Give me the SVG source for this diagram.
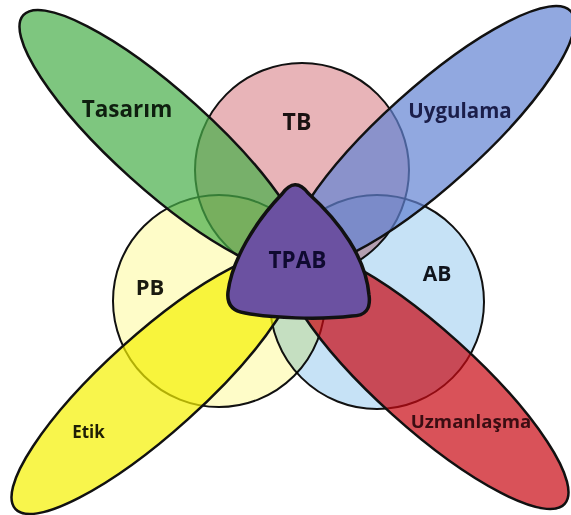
<svg xmlns="http://www.w3.org/2000/svg" width="571" height="515" viewBox="0 0 571 515">
  <style>
    .circle { stroke: #111; stroke-width: 2; mix-blend-mode: multiply; }
    .petal { stroke: #111; stroke-width: 2.5; fill-opacity: 0.7; }
    .core { fill: #6b51a1; stroke: #111; stroke-width: 3.5; stroke-linejoin: round; }
    .label { font-family: "Open Sans", "Liberation Sans", sans-serif; font-weight: 700; text-anchor: middle; }
  </style>
  <rect width="571" height="515" fill="#ffffff"/>

  <!-- knowledge circles -->
  <g id="node-tb">
    <circle class="circle" cx="302" cy="170" r="107" fill="#e8b4b8"/>
    <text class="label" x="297" y="130" font-size="23" fill="#1a1212">TB</text>
  </g>
  <g id="node-pb">
    <circle class="circle" cx="219" cy="301" r="106" fill="#fefcc8"/>
    <text class="label" x="150" y="295" font-size="22" fill="#1a1a10">PB</text>
  </g>
  <g id="node-ab">
    <circle class="circle" cx="377" cy="302" r="107" fill="#c6e2f6"/>
    <text class="label" x="437" y="281" font-size="21" fill="#10141c">AB</text>
  </g>

  <!-- elongated petals -->
  <g id="node-tasarim">
    <ellipse class="petal" cx="163" cy="141" rx="188" ry="49" transform="rotate(42 163 141)" fill="#47ae48"/>
    <text class="label" x="127" y="117" font-size="22.5" fill="#0f1f0f">Tasarım</text>
  </g>
  <g id="node-uygulama">
    <ellipse class="petal" cx="431" cy="137" rx="188" ry="49" transform="rotate(-42 431 137)" fill="#6383d3"/>
    <text class="label" x="460" y="118" font-size="20.5" fill="#1b1e4a">Uygulama</text>
  </g>
  <g id="node-uzmanlasma">
    <ellipse class="petal" cx="425" cy="378" rx="188" ry="49" transform="rotate(42 425 378)" fill="#c90813"/>
    <text class="label" x="471" y="428" font-size="18.6" fill="#3b0d12">Uzmanlaşma</text>
  </g>
  <g id="node-etik">
    <ellipse class="petal" cx="155" cy="383" rx="188" ry="49" transform="rotate(-42 155 383)" fill="#f5f100"/>
    <text class="label" x="88.5" y="438" font-size="17" fill="#1f1f05">Etik</text>
  </g>

  <!-- central rounded triangle -->
  <g id="node-tpab">
    <path class="core" d="M 282,194 Q 295,176 308,193 C 340,222 366,258 369,295 Q 372,316 352,316 C 320,320 270,318 245,313 Q 226,310 228,292 C 232,260 255,222 282,194 Z"/>
    <text class="label" x="297.5" y="268" font-size="22.5" fill="#0f0a30">TPAB</text>
  </g>
</svg>
